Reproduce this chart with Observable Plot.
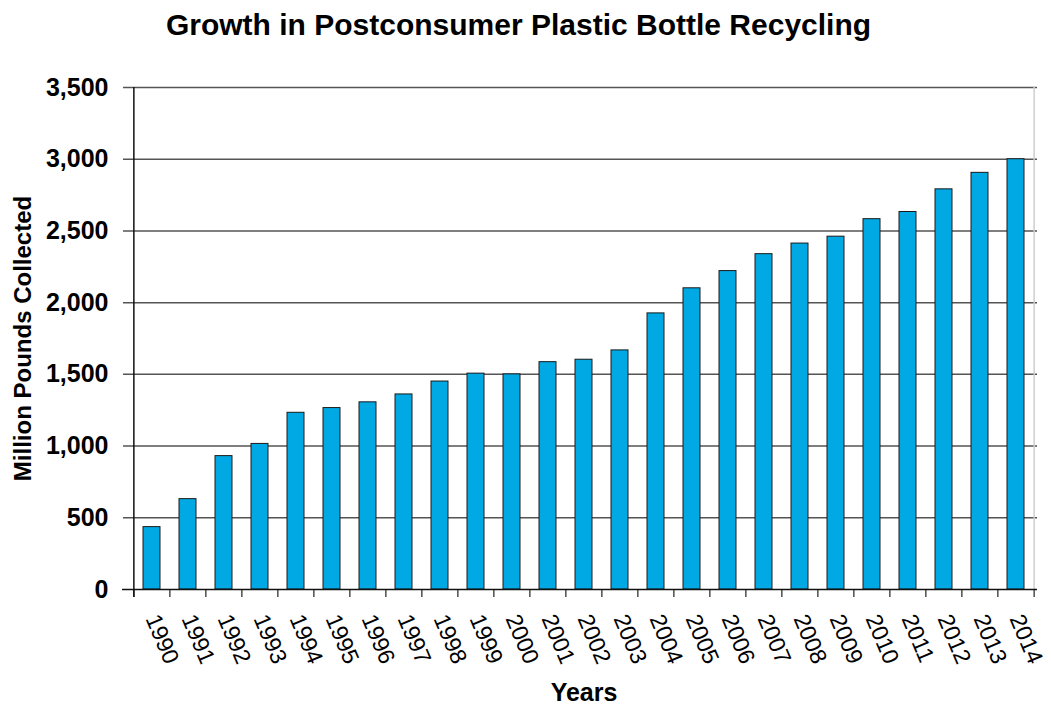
<!DOCTYPE html>
<html><head><meta charset="utf-8">
<script src="https://cdn.jsdelivr.net/npm/d3@7"></script>
<script src="https://cdn.jsdelivr.net/npm/@observablehq/plot@0.6"></script>
<style>
body{margin:0;background:#fff;font-family:"Liberation Sans",Arial,sans-serif;}
#title{width:1037px;height:50px;line-height:50px;text-align:center;font-weight:bold;font-size:30px;color:#000;white-space:nowrap;}
</style></head><body>
<div id="title">Growth in Postconsumer Plastic Bottle Recycling</div>
<div id="chart"></div>
<script>
const years = ["1990","1991","1992","1993","1994","1995","1996","1997","1998","1999","2000","2001","2002","2003","2004","2005","2006","2007","2008","2009","2010","2011","2012","2013","2014"];
const pounds = [435,630,930,1015,1232,1265,1305,1360,1450,1505,1500,1585,1602,1667,1925,2100,2220,2338,2412,2460,2582,2632,2790,2905,3000];
const yTicks = [0,500,1000,1500,2000,2500,3000,3500];
const yLabel = "Million Pounds Collected";
const xLabel = "Years";

const W = 1051, H = 658, mL = 130, mR = 14, mT = 37, mB = 119;
const step = (W - mL - mR) / years.length;
const innerH = H - mT - mB;
const data = years.map((year, i) => ({year, value: pounds[i]}));

const chart = Plot.plot({
  width: W, height: H,
  marginLeft: mL, marginRight: mR, marginTop: mT, marginBottom: mB,
  style: {fontFamily: '"Liberation Sans", Arial, sans-serif', background: "#fff", color: "#000"},
  x: {type: "band", domain: years, paddingInner: 0.53, paddingOuter: 0.265},
  y: {domain: [0, 3500]},
  marks: [
    Plot.ruleY(yTicks.slice(1), {y: d => d, stroke: "#555", strokeWidth: 1.5, insetLeft: -7}),
    Plot.barY(data, {x: "year", y: "value", fill: "#00A9E3", stroke: "#1a1a1a", strokeWidth: 1}),
    Plot.ruleX(years, {x: d => d, dx: -step / 2, insetTop: innerH, insetBottom: -8, stroke: "#333", strokeWidth: 1.3}),
    Plot.ruleX(years.slice(-1), {x: d => d, dx: step / 2, stroke: "#cfcfcf", strokeWidth: 1.5}),
    Plot.ruleX(years.slice(-1), {x: d => d, dx: step / 2, insetTop: innerH, insetBottom: -8, stroke: "#333", strokeWidth: 1.3}),
    Plot.ruleX(years.slice(0, 1), {x: d => d, dx: -step / 2, insetBottom: -8, stroke: "#111", strokeWidth: 1.5}),
    Plot.ruleY([0], {y: d => d, stroke: "#111", strokeWidth: 1.5, insetLeft: -8}),
    Plot.axisY({ticks: yTicks, tickSize: 0, tickPadding: 22, tickFormat: d3.format(","), fontSize: 25, fontWeight: "bold", label: null}),
    Plot.axisX({tickSize: 0, tickPadding: 26, tickRotate: 67, textAnchor: "start", lineAnchor: "middle", fontSize: 23, label: null}),
    Plot.text([yLabel], {frameAnchor: "left", textAnchor: "middle", dx: -107, rotate: -90, fontSize: 24, fontWeight: "bold"}),
    Plot.text([xLabel], {frameAnchor: "bottom", textAnchor: "middle", dy: 111, fontSize: 25, fontWeight: "bold"})
  ]
});
document.getElementById("chart").appendChild(chart);
</script>
</body></html>
